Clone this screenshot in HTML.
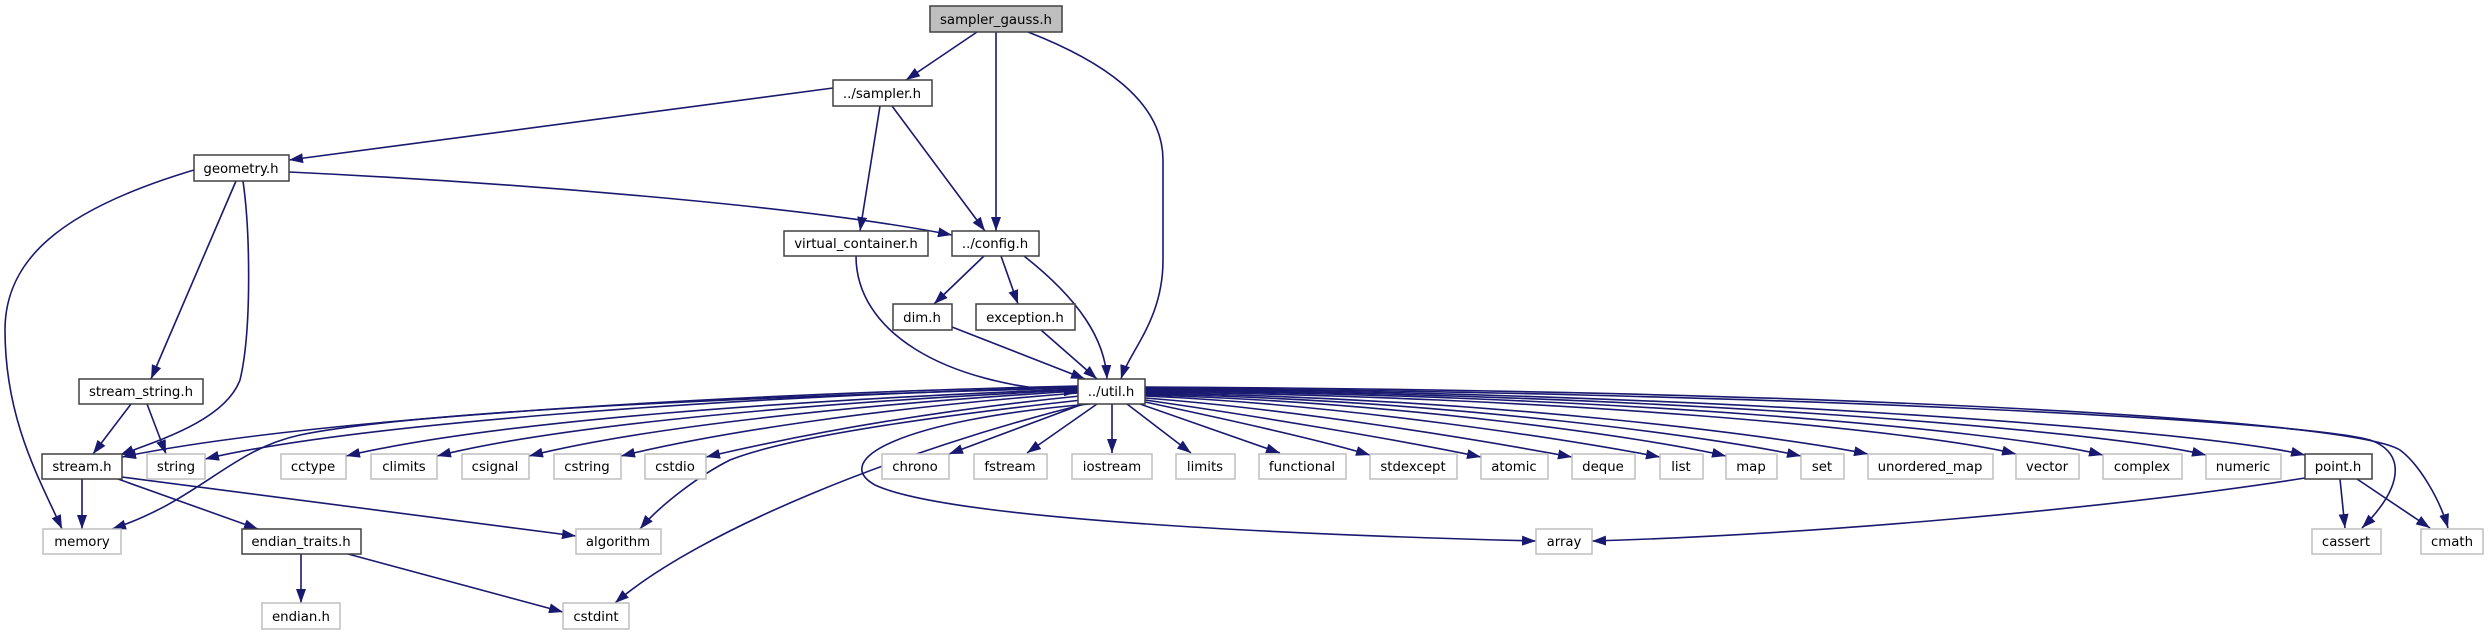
<!DOCTYPE html>
<html><head><meta charset="utf-8"><style>
html,body{margin:0;padding:0;background:#fff;}
svg{display:block;}
text{font-family:"DejaVu Sans","Liberation Sans",sans-serif;font-size:13.3px;text-anchor:middle;fill:#000;}
.e{fill:none;stroke:#191970;stroke-width:1.6;marker-end:url(#a);}
.n{fill:#fff;stroke:#404040;stroke-width:1.5;}
.x{fill:#fff;stroke:#bfbfbf;stroke-width:1.5;}
</style></head><body>
<svg width="2489" height="635" viewBox="0 0 2489 635" xmlns="http://www.w3.org/2000/svg">
<defs><marker id="a" markerUnits="userSpaceOnUse" markerWidth="15" markerHeight="11" refX="14" refY="5" orient="auto"><path d="M0,0 L14,5 L0,10 z" fill="#191970"/></marker></defs>
<path class="e" d="M977,32 L906,80"/>
<path class="e" d="M996,32 L996,231"/>
<path class="e" d="M1028,32 C1100,60 1163,100 1163,160 L1163,260 C1163,320 1130,350 1121,379"/>
<path class="e" d="M833,88 L289,160"/>
<path class="e" d="M880,106 L860,231"/>
<path class="e" d="M892,106 L985,231"/>
<path class="e" d="M289,172 C500,182 800,205 952,235"/>
<path class="e" d="M194,170 C60,210 5,260 5,330 C5,420 40,480 62,529"/>
<path class="e" d="M236,181 L151,379"/>
<path class="e" d="M243,181 C250,230 252,330 240,380 C225,420 160,440 120,455"/>
<path class="e" d="M131,404 L93,454"/>
<path class="e" d="M147,404 L166,454"/>
<path class="e" d="M856,256 C856,330 940,385 1078,392"/>
<path class="e" d="M984,256 L934,304"/>
<path class="e" d="M1001,256 L1018,304"/>
<path class="e" d="M1024,256 C1080,300 1105,340 1107,379"/>
<path class="e" d="M952,327 L1085,379"/>
<path class="e" d="M1041,330 L1097,379"/>
<path class="e" d="M82,479 L82,529"/>
<path class="e" d="M118,479 L258,529"/>
<path class="e" d="M122,477 L576,536"/>
<path class="e" d="M301,554 L301,603"/>
<path class="e" d="M348,554 L563,612"/>
<path class="e" d="M1078,386 C700,395 300,420 122,457"/>
<path class="e" d="M1078,387 C700,398 350,425 205,459"/>
<path class="e" d="M1078,388 C800,395 420,410 300,435 C230,450 200,500 112,529"/>
<path class="e" d="M1078,389 C800,400 500,420 346,456"/>
<path class="e" d="M1078,390 C820,402 560,425 437,456"/>
<path class="e" d="M1078,391 C850,405 640,428 529,456"/>
<path class="e" d="M1078,393 C880,408 720,432 621,456"/>
<path class="e" d="M1080,396 C920,412 800,435 706,457"/>
<path class="e" d="M1082,400 C900,420 780,440 730,460 C700,475 660,505 640,529"/>
<path class="e" d="M1085,404 C900,450 700,530 615,603"/>
<path class="e" d="M1090,404 C900,420 830,460 875,485 C950,520 1300,535 1536,541"/>
<path class="e" d="M1083,404 L949,454"/>
<path class="e" d="M1097,404 L1027,453"/>
<path class="e" d="M1112,404 L1112,453"/>
<path class="e" d="M1127,404 L1191,453"/>
<path class="e" d="M1140,404 L1280,453"/>
<path class="e" d="M1145,402 C1230,420 1320,440 1370,455"/>
<path class="e" d="M1145,400 C1250,415 1400,440 1481,457"/>
<path class="e" d="M1145,398 C1300,410 1480,440 1572,457"/>
<path class="e" d="M1145,396 C1350,405 1570,440 1660,457"/>
<path class="e" d="M1145,395 C1400,402 1650,438 1726,456"/>
<path class="e" d="M1145,394 C1450,400 1720,438 1801,456"/>
<path class="e" d="M1145,393 C1500,398 1790,438 1868,454"/>
<path class="e" d="M1145,392 C1550,396 1920,430 2016,454"/>
<path class="e" d="M1145,391 C1600,394 2000,430 2103,455"/>
<path class="e" d="M1145,390 C1650,393 2100,430 2206,455"/>
<path class="e" d="M1145,389 C1700,392 2200,430 2305,455"/>
<path class="e" d="M1145,388 C1750,392 2300,420 2370,440 C2400,450 2410,480 2362,528"/>
<path class="e" d="M1145,387 C1800,390 2350,418 2400,450 C2420,465 2440,500 2448,528"/>
<path class="e" d="M2305,478 C2100,510 1800,535 1592,541"/>
<path class="e" d="M2340,479 L2345,528"/>
<path class="e" d="M2357,479 L2430,528"/>
<rect x="930" y="6" width="132" height="26" fill="#bfbfbf" stroke="#404040" stroke-width="1.5"/><text x="996" y="24">sampler_gauss.h</text>
<rect class="n" x="833" y="80" width="99" height="26"/><text x="882" y="98">../sampler.h</text>
<rect class="n" x="194" y="155" width="95" height="26"/><text x="241" y="173">geometry.h</text>
<rect class="n" x="784" y="231" width="144" height="25"/><text x="856" y="248">virtual_container.h</text>
<rect class="n" x="952" y="231" width="87" height="25"/><text x="995" y="248">../config.h</text>
<rect class="n" x="893" y="304" width="59" height="26"/><text x="922" y="322">dim.h</text>
<rect class="n" x="976" y="304" width="99" height="26"/><text x="1025" y="322">exception.h</text>
<rect class="n" x="1078" y="379" width="67" height="25"/><text x="1111" y="396">../util.h</text>
<rect class="n" x="79" y="379" width="124" height="25"/><text x="141" y="396">stream_string.h</text>
<rect class="n" x="42" y="454" width="80" height="25"/><text x="82" y="471">stream.h</text>
<rect class="x" x="147" y="454" width="58" height="25"/><text x="176" y="471">string</text>
<rect class="x" x="281" y="454" width="65" height="25"/><text x="313" y="471">cctype</text>
<rect class="x" x="371" y="454" width="66" height="25"/><text x="404" y="471">climits</text>
<rect class="x" x="462" y="454" width="67" height="25"/><text x="495" y="471">csignal</text>
<rect class="x" x="554" y="454" width="67" height="25"/><text x="587" y="471">cstring</text>
<rect class="x" x="645" y="454" width="61" height="25"/><text x="675" y="471">cstdio</text>
<rect class="x" x="882" y="454" width="67" height="25"/><text x="915" y="471">chrono</text>
<rect class="x" x="974" y="454" width="73" height="25"/><text x="1010" y="471">fstream</text>
<rect class="x" x="1072" y="454" width="80" height="25"/><text x="1112" y="471">iostream</text>
<rect class="x" x="1176" y="454" width="59" height="25"/><text x="1205" y="471">limits</text>
<rect class="x" x="1259" y="454" width="87" height="25"/><text x="1302" y="471">functional</text>
<rect class="x" x="1370" y="454" width="87" height="25"/><text x="1413" y="471">stdexcept</text>
<rect class="x" x="1481" y="454" width="67" height="25"/><text x="1514" y="471">atomic</text>
<rect class="x" x="1572" y="454" width="63" height="25"/><text x="1603" y="471">deque</text>
<rect class="x" x="1660" y="454" width="43" height="25"/><text x="1681" y="471">list</text>
<rect class="x" x="1726" y="454" width="51" height="25"/><text x="1751" y="471">map</text>
<rect class="x" x="1801" y="454" width="43" height="25"/><text x="1822" y="471">set</text>
<rect class="x" x="1868" y="454" width="125" height="25"/><text x="1930" y="471">unordered_map</text>
<rect class="x" x="2016" y="454" width="63" height="25"/><text x="2047" y="471">vector</text>
<rect class="x" x="2103" y="454" width="79" height="25"/><text x="2142" y="471">complex</text>
<rect class="x" x="2206" y="454" width="75" height="25"/><text x="2243" y="471">numeric</text>
<rect class="n" x="2305" y="454" width="67" height="25"/><text x="2338" y="471">point.h</text>
<rect class="x" x="43" y="529" width="78" height="25"/><text x="82" y="546">memory</text>
<rect class="n" x="242" y="529" width="119" height="25"/><text x="301" y="546">endian_traits.h</text>
<rect class="x" x="576" y="529" width="85" height="25"/><text x="618" y="546">algorithm</text>
<rect class="x" x="1536" y="529" width="56" height="25"/><text x="1564" y="546">array</text>
<rect class="x" x="2312" y="529" width="69" height="25"/><text x="2346" y="546">cassert</text>
<rect class="x" x="2421" y="529" width="62" height="25"/><text x="2452" y="546">cmath</text>
<rect class="x" x="262" y="603" width="78" height="26"/><text x="301" y="621">endian.h</text>
<rect class="x" x="563" y="603" width="66" height="26"/><text x="596" y="621">cstdint</text>
</svg>
</body></html>
